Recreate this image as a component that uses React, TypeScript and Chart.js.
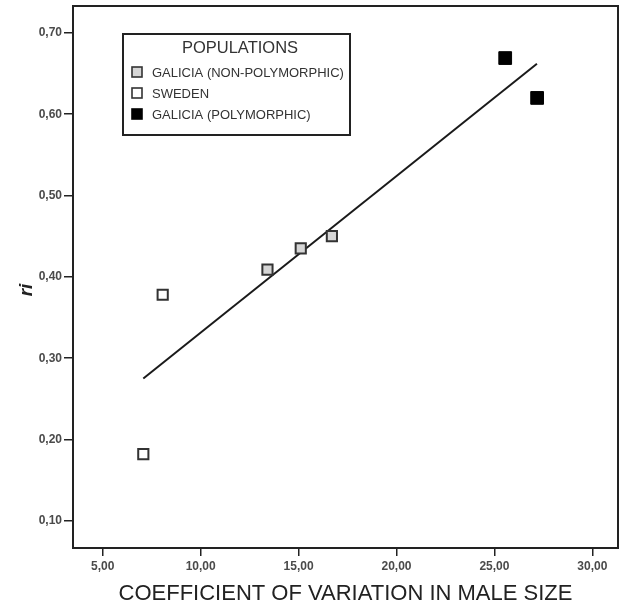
import React, { useEffect, useRef } from 'react';
import { Chart, registerables } from 'chart.js';

Chart.register(...registerables);

// ---- data ----
const galiciaNonPolyX = [13.41, 15.11, 16.7];
const galiciaNonPolyY = [0.409, 0.435, 0.45];
const swedenX = [7.07, 8.06];
const swedenY = [0.182, 0.378];
const galiciaPolyX = [25.55, 27.18];
const galiciaPolyY = [0.669, 0.62];
const fitX = [7.07, 27.17];
const fitY = [0.275, 0.662];

const xTickValues = [5, 10, 15, 20, 25, 30];
const yTickValues = [0.1, 0.2, 0.3, 0.4, 0.5, 0.6, 0.7];

const seriesLabels = ['GALICIA (NON-POLYMORPHIC)', 'SWEDEN', 'GALICIA (POLYMORPHIC)'];
const legendTitle = 'POPULATIONS';
const xTitle = 'COEFFICIENT OF VARIATION IN MALE SIZE';
const yTitle = 'ri';

const FONT = '"Liberation Sans", Arial, sans-serif';
const INK = '#222222';

const pts = (xs: number[], ys: number[]) => xs.map((x, i) => ({ x, y: ys[i] }));
const fmt = (v: number) => v.toFixed(2).replace('.', ',');

const framePlugin = {
  id: 'frameAndTitles',
  afterDraw(chart: any) {
    const { ctx, chartArea: a } = chart;
    ctx.save();
    // frame
    ctx.strokeStyle = INK;
    ctx.lineWidth = 2;
    ctx.strokeRect(a.left, a.top, a.right - a.left, a.bottom - a.top);

    // x title
    ctx.fillStyle = INK;
    ctx.font = `22px ${FONT}`;
    ctx.textAlign = 'center';
    ctx.textBaseline = 'alphabetic';
    ctx.fillText(xTitle, (a.left + a.right) / 2, 600);

    // y title
    ctx.save();
    ctx.translate(27, 290);
    ctx.rotate(-Math.PI / 2);
    ctx.font = `italic bold 19px ${FONT}`;
    ctx.textBaseline = 'middle';
    ctx.textAlign = 'center';
    ctx.fillText(yTitle, 0, 0);
    ctx.restore();

    // legend
    const bx = 123, by = 34, bw = 227, bh = 101;
    ctx.fillStyle = '#ffffff';
    ctx.fillRect(bx, by, bw, bh);
    ctx.strokeStyle = INK;
    ctx.lineWidth = 2;
    ctx.strokeRect(bx, by, bw, bh);

    ctx.fillStyle = '#333333';
    ctx.font = `16.5px ${FONT}`;
    ctx.textAlign = 'center';
    ctx.textBaseline = 'middle';
    ctx.fillText(legendTitle, 240, 48);

    const rowY = [72, 93, 114];
    ctx.font = `13px ${FONT}`;
    ctx.textAlign = 'left';
    seriesLabels.forEach((lab, i) => {
      const ds = chart.data.datasets[i];
      const y = rowY[i];
      ctx.fillStyle = ds.backgroundColor;
      ctx.fillRect(132, y - 5, 10, 10);
      ctx.strokeStyle = ds.borderColor;
      ctx.lineWidth = 1.6;
      ctx.strokeRect(132, y - 5, 10, 10);
      ctx.fillStyle = '#333333';
      ctx.fillText(lab, 152, y + 1);
    });
    ctx.restore();
  },
};

export default function App() {
  const ref = useRef<HTMLCanvasElement | null>(null);

  useEffect(() => {
    if (!ref.current) return;
    const chart = new Chart(ref.current, {
      type: 'scatter',
      data: {
        datasets: [
          {
            label: seriesLabels[0],
            data: pts(galiciaNonPolyX, galiciaNonPolyY),
            pointStyle: 'rect',
            pointRadius: 7.2,
            borderWidth: 2,
            borderColor: '#333333',
            backgroundColor: '#d6d6d6',
            order: 1,
          },
          {
            label: seriesLabels[1],
            data: pts(swedenX, swedenY),
            pointStyle: 'rect',
            pointRadius: 7.2,
            borderWidth: 2,
            borderColor: '#333333',
            backgroundColor: '#ffffff',
            order: 1,
          },
          {
            label: seriesLabels[2],
            data: pts(galiciaPolyX, galiciaPolyY),
            pointStyle: 'rect',
            pointRadius: 9,
            borderWidth: 1,
            borderColor: '#000000',
            backgroundColor: '#000000',
            order: 1,
          },
          {
            label: 'fit',
            data: pts(fitX, fitY),
            showLine: true,
            pointRadius: 0,
            borderColor: '#1a1a1a',
            borderWidth: 2,
            order: 10,
          } as any,
        ],
      },
      options: {
        animation: false,
        responsive: false,
        layout: { autoPadding: false, padding: { left: 0, right: 2, top: 6, bottom: 0 } },
        plugins: {
          legend: { display: false },
          tooltip: { enabled: false },
        },
        scales: {
          x: {
            type: 'linear',
            min: 3.48,
            max: 31.31,
            afterFit: (s: any) => {
              s.height = 55;
              s.paddingLeft = 0;
              s.paddingRight = 0;
            },
            afterBuildTicks: (s: any) => {
              s.ticks = xTickValues.map((v) => ({ value: v }));
            },
            ticks: {
              callback: (v: any) => fmt(Number(v)),
              color: '#4a4a4a',
              font: { family: FONT, size: 12, weight: 'bold' },
              padding: 3,
              maxRotation: 0,
            },
            grid: {
              display: true,
              drawOnChartArea: false,
              drawTicks: true,
              tickLength: 8,
              color: INK,
              lineWidth: 1.5,
            },
            border: { display: false },
          },
          y: {
            type: 'linear',
            min: 0.0667,
            max: 0.733,
            afterFit: (s: any) => {
              s.width = 73;
              s.paddingTop = 0;
              s.paddingBottom = 0;
            },
            afterBuildTicks: (s: any) => {
              s.ticks = yTickValues.map((v) => ({ value: v }));
            },
            ticks: {
              callback: (v: any) => fmt(Number(v)),
              color: '#4a4a4a',
              font: { family: FONT, size: 12, weight: 'bold' },
              padding: 2,
            },
            grid: {
              display: true,
              drawOnChartArea: false,
              drawTicks: true,
              tickLength: 9,
              color: INK,
              lineWidth: 1.5,
            },
            border: { display: false },
          },
        },
      } as any,
      plugins: [framePlugin],
    });
    return () => chart.destroy();
  }, []);

  return (
    <div style={{ position: 'absolute', left: 0, top: 0, width: 620, height: 603, background: '#fff' }}>
      <canvas ref={ref} width={620} height={603} style={{ display: 'block' }} />
    </div>
  );
}
